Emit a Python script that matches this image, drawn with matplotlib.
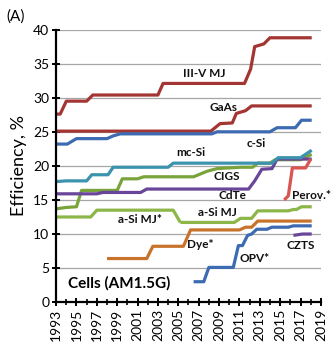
import matplotlib
matplotlib.use("Agg")
import matplotlib.pyplot as plt
from matplotlib.ticker import MultipleLocator

plt.rcParams['font.family'] = ['Lato', 'DejaVu Sans']

# Record cell efficiencies (%) by year
iii_v_years = [1993, 1993.4, 1994.0, 1996.0, 1996.6, 2003.0, 2003.5, 2011.5, 2012.1, 2012.5, 2013.4, 2014.0, 2018.1]
iii_v_eff = [27.6, 27.6, 29.5, 29.5, 30.4, 30.4, 32.1, 32.1, 34.2, 37.5, 37.9, 38.8, 38.8]

gaas_years = [1993, 2008.2, 2009.1, 2010.3, 2010.7, 2011.6, 2012.2, 2018.1]
gaas_eff = [25.1, 25.1, 26.2, 26.3, 27.7, 28.1, 28.8, 28.8]

csi_years = [1993, 1994.1, 1995.0, 1998.0, 1998.6, 1999.3, 2008.3, 2008.8, 2014.0, 2014.7, 2016.5, 2017.1, 2018.1]
csi_eff = [23.2, 23.2, 24.0, 24.0, 24.4, 24.7, 24.7, 25.0, 25.0, 25.6, 25.6, 26.7, 26.7]

mcsi_years = [1993, 1994.0, 1996.0, 1996.5, 1998.1, 1998.6, 2004.0, 2004.5, 2014.2, 2014.8, 2017.0, 2018.1]
mcsi_eff = [17.7, 17.8, 17.8, 18.7, 18.7, 19.8, 19.8, 20.4, 20.4, 21.2, 21.2, 22.3]

cigs_years = [1993, 1994.0, 1995.0, 1995.5, 1999.0, 1999.5, 2001.0, 2001.6, 2006.5, 2007.8, 2008.8, 2011.1, 2012.3, 2012.8, 2014.0, 2014.5, 2017.0, 2018.1]
cigs_eff = [13.7, 13.9, 14.0, 16.4, 16.4, 18.1, 18.1, 18.4, 18.4, 19.2, 19.6, 19.8, 19.8, 20.4, 20.4, 20.9, 20.9, 21.7]

cdte_years = [1993, 1997.0, 1997.6, 2001.3, 2001.9, 2011.9, 2012.5, 2013.2, 2014.2, 2014.7, 2018.1]
cdte_eff = [15.9, 15.9, 16.1, 16.1, 16.6, 16.6, 17.8, 19.5, 19.6, 21.0, 21.0]

perov_years = [2015.4, 2015.8, 2016.2, 2017.5, 2018.0]
perov_eff = [15.0, 15.6, 19.7, 19.7, 21.0]

asi_mj_star_years = [1993, 1996.4, 1997.0, 2004.5, 2005.2]
asi_mj_star_eff = [12.5, 12.5, 13.5, 13.5, 11.7]

asi_mj_years = [2005.2, 2010.5, 2011.1, 2012.2, 2012.8, 2015.8, 2016.3, 2016.6, 2017.1, 2018.1]
asi_mj_eff = [11.7, 11.7, 12.3, 12.3, 13.4, 13.4, 13.6, 13.6, 14.0, 14.0]

dye_years = [1998.0, 2001.9, 2002.5, 2005.5, 2006.2, 2011.0, 2011.6, 2012.2, 2012.8, 2018.1]
dye_eff = [6.4, 6.4, 8.2, 8.2, 10.6, 10.6, 11.0, 11.0, 11.9, 11.9]

opv_years = [2006.5, 2007.5, 2008.0, 2010.4, 2010.9, 2011.3, 2011.8, 2012.2, 2012.7, 2013.7, 2014.2, 2015.8, 2016.3, 2018.1]
opv_eff = [3.0, 3.0, 5.1, 5.1, 8.3, 8.3, 9.8, 10.0, 10.7, 10.7, 11.0, 11.0, 11.2, 11.2]

czts_years = [2016.3, 2017.2, 2018.1]
czts_eff = [9.8, 10.0, 10.0]

c_red = '#A33532'
c_blue = '#3D6BB1'
c_teal = '#3B93AD'
c_green = '#79A43C'
c_lgreen = '#8DB649'
c_purple = '#6A469A'
c_perov = '#DA5450'
c_orange = '#C8732C'

series = [
    (iii_v_years, iii_v_eff, c_red),
    (gaas_years, gaas_eff, c_red),
    (csi_years, csi_eff, c_blue),
    (asi_mj_star_years, asi_mj_star_eff, c_lgreen),
    (asi_mj_years, asi_mj_eff, c_lgreen),
    (dye_years, dye_eff, c_orange),
    (opv_years, opv_eff, c_blue),
    (czts_years, czts_eff, c_purple),
    (cigs_years, cigs_eff, c_green),
    (cdte_years, cdte_eff, c_purple),
    (mcsi_years, mcsi_eff, c_teal),
    (perov_years, perov_eff, c_perov),
]

# Label text and its (year, efficiency) anchor
labels = [
    ("III-V MJ", 2007.5, 33.5),
    ("GaAs", 2009.4, 28.5),
    ("c-Si", 2012.7, 23.3),
    ("mc-Si", 2006.2, 21.9),
    ("CIGS", 2009.8, 18.4),
    ("CdTe", 2010.3, 15.6),
    ("Perov.*", 2018.1, 15.6),
    ("a-Si MJ*", 2001.2, 12.2),
    ("a-Si MJ", 2008.8, 13.2),
    ("Dye*", 2007.2, 8.4),
    ("OPV*", 2012.5, 6.4),
    ("CZTS", 2017.0, 8.3),
]

fig = plt.figure(figsize=(3.36, 3.61), dpi=100)
ax = fig.add_axes([0.167, 0.163, 0.788, 0.755])

for yrs, eff, col in series:
    ax.plot(yrs, eff, color=col, lw=2.3, solid_capstyle='butt', solid_joinstyle='round')

for txt, x, y in labels:
    ax.text(x, y, txt, fontsize=8.5, fontweight='bold', ha='center', va='center', color='#111111')

ax.text(1994.2, 2.7, "Cells (AM1.5G)", fontsize=11, fontweight='bold', ha='left', va='center')
fig.text(0.02, 0.955, "(A)", fontsize=11, ha='left', va='center')

ax.set_xlim(1993, 2019)
ax.set_ylim(0, 40)
ax.xaxis.set_major_locator(MultipleLocator(2))
ax.xaxis.set_minor_locator(MultipleLocator(1))
ax.yaxis.set_major_locator(MultipleLocator(5))
ax.set_xticks(range(1993, 2020, 2))
ax.set_xticklabels([str(y) for y in range(1993, 2020, 2)], rotation=90)

ax.yaxis.grid(True, color='#A6A6A6', lw=0.9)
ax.set_axisbelow(True)
for s in ['top', 'right']:
    ax.spines[s].set_visible(False)
for s in ['left', 'bottom']:
    ax.spines[s].set_linewidth(1.6)
    ax.spines[s].set_color('black')

ax.tick_params(axis='both', which='major', direction='inout', length=6, width=1.4, labelsize=10, pad=2)
ax.tick_params(axis='x', which='minor', direction='inout', length=5, width=1.2)
ax.set_ylabel("Efficiency, %", fontsize=13, labelpad=4)

fig.savefig("out.png", dpi=100)
